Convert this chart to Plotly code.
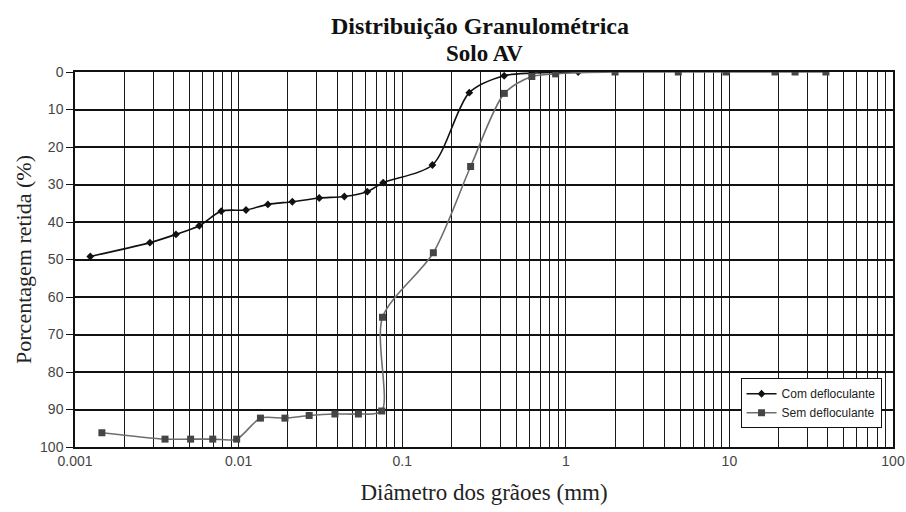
import plotly.graph_objects as go

# Com defloculante (diameter mm, % retained)
com_x = [0.00124, 0.00287, 0.00414, 0.00575, 0.00783, 0.0111, 0.0151, 0.0213,
         0.0311, 0.0443, 0.0612, 0.0765, 0.153, 0.257, 0.42, 0.62, 1.19]
com_y = [49.2, 45.5, 43.3, 41.0, 37.1, 36.8, 35.3, 34.6,
         33.6, 33.2, 31.9, 29.5, 24.8, 5.5, 1.0, 0.3, 0.0]

# Sem defloculante
sem_x = [0.00146, 0.00355, 0.00509, 0.00695, 0.00973, 0.0136, 0.0192, 0.0270,
         0.0388, 0.054, 0.075, 0.0758, 0.155, 0.262, 0.421, 0.62, 0.867,
         2.0, 4.87, 9.53, 19.0, 25.2, 38.9]
sem_y = [96.2, 97.9, 97.9, 97.9, 97.9, 92.3, 92.3, 91.6,
         91.2, 91.2, 90.4, 65.4, 48.2, 25.2, 5.7, 1.2, 0.5,
         0.0, 0.0, 0.0, 0.0, 0.0, 0.0]

decade_vals = [0.001, 0.01, 0.1, 1, 10, 100]
decade_labels = ["0.001", "0.01", "0.1", "1", "10", "100"]
y_ticks = [0, 10, 20, 30, 40, 50, 60, 70, 80, 90, 100]
title_lines = ["Distribuição Granulométrica", "Solo AV"]

# log grid: 1..9 x each decade
grid_vals, grid_text = [], []
for d, lab in zip(decade_vals[:-1], decade_labels[:-1]):
    for m in range(1, 10):
        grid_vals.append(round(m * d, 6))
        grid_text.append(lab if m == 1 else "")
grid_vals.append(decade_vals[-1])
grid_text.append(decade_labels[-1])

fig = go.Figure()
fig.add_trace(go.Scatter(
    x=com_x, y=com_y, name="Com defloculante", mode="lines+markers",
    line=dict(color="#111111", width=1.6, shape="spline", smoothing=0.8),
    marker=dict(symbol="diamond", size=6, color="#111111"),
))
fig.add_trace(go.Scatter(
    x=sem_x, y=sem_y, name="Sem defloculante", mode="lines+markers",
    line=dict(color="#6e6e6e", width=1.6, shape="spline", smoothing=0.8),
    marker=dict(symbol="square", size=7, color="#454545"),
))

plot_h = 512 - 72 - 65
def paper_y(py):
    return (447 - py) / plot_h

fig.update_layout(
    width=906, height=512,
    margin=dict(l=75, r=13, t=72, b=65),
    paper_bgcolor="white", plot_bgcolor="white",
    legend=dict(
        x=0.986, xanchor="right", y=0.05, yanchor="bottom",
        bgcolor="white", bordercolor="#111111", borderwidth=1,
        font=dict(family="Liberation Sans", size=12, color="#222222"),
        tracegroupgap=0, itemwidth=30,
    ),
    showlegend=True,
    annotations=[
        dict(text="<b>%s</b>" % title_lines[0], xref="paper", yref="paper",
             x=(480 - 75) / 818, y=paper_y(26), xanchor="center", yanchor="middle",
             showarrow=False,
             font=dict(family="Liberation Serif", size=24, color="#111111")),
        dict(text="<b>%s</b>" % title_lines[1], xref="paper", yref="paper",
             x=(484 - 75) / 818, y=paper_y(53), xanchor="center", yanchor="middle",
             showarrow=False,
             font=dict(family="Liberation Serif", size=23, color="#111111")),
    ],
)

fig.update_xaxes(
    type="log", range=[-3, 2], automargin=False,
    tickmode="array", tickvals=grid_vals, ticktext=grid_text,
    showgrid=True, gridcolor="#1a1a1a", gridwidth=1.3,
    showline=True, linecolor="#111111", linewidth=1.5, mirror=True,
    ticks="", zeroline=False,
    tickfont=dict(family="Liberation Sans", size=14, color="#444444"),
    title=dict(text="Diâmetro dos grãoes (mm)", standoff=16,
               font=dict(family="Liberation Serif", size=23, color="#222222")),
)
fig.update_yaxes(
    range=[100, 0], tickmode="array", tickvals=y_ticks, automargin=False,
    showgrid=True, gridcolor="#111111", gridwidth=1.5,
    showline=True, linecolor="#111111", linewidth=1.5, mirror=True,
    ticks="outside", ticklen=7, tickcolor="#111111", zeroline=False,
    tickfont=dict(family="Liberation Sans", size=14, color="#444444"),
    title=dict(text="Porcentagem retida (%)", standoff=2,
               font=dict(family="Liberation Serif", size=22, color="#222222")),
)

fig.write_html("out.html")
